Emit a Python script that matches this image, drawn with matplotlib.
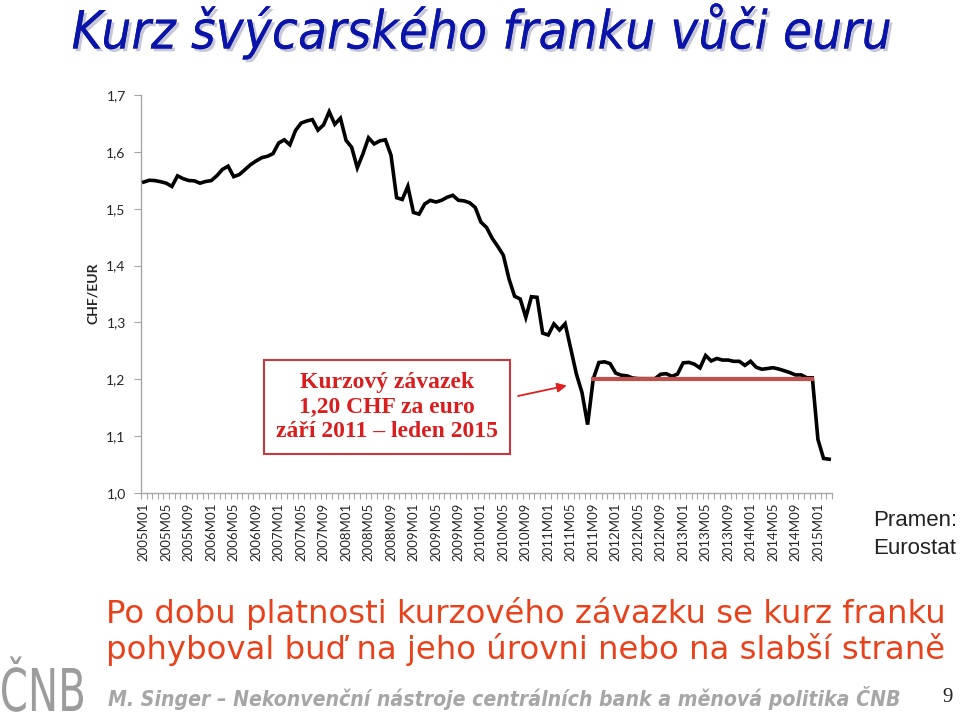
import matplotlib.pyplot as plt
import matplotlib.patheffects as pe
from matplotlib.ticker import FixedLocator
from matplotlib.textpath import TextPath
from matplotlib.patches import PathPatch
from matplotlib.font_manager import FontProperties
from matplotlib.transforms import Affine2D

# Monthly CHF/EUR averages, 2005M01 - 2015M03 (Eurostat)
rate = [
    1.5469, 1.5501, 1.5494, 1.5475, 1.5449, 1.5391, 1.5578, 1.5528, 1.5496, 1.5490, 1.5449, 1.5479,  # 2005
    1.5494, 1.5580, 1.5691, 1.5748, 1.5564, 1.5601, 1.5687, 1.5775, 1.5841, 1.5898, 1.5922, 1.5969,  # 2006
    1.6155, 1.6212, 1.6124, 1.6375, 1.6506, 1.6543, 1.6567, 1.6383, 1.6475, 1.6706, 1.6485, 1.6592,  # 2007
    1.6203, 1.6080, 1.5720, 1.5964, 1.6247, 1.6139, 1.6193, 1.6212, 1.5942, 1.5194, 1.5162, 1.5393,  # 2008
    1.4935, 1.4904, 1.5083, 1.5147, 1.5118, 1.5148, 1.5202, 1.5236, 1.5148, 1.5138, 1.5105, 1.5021,  # 2009
    1.4765, 1.4671, 1.4482, 1.4337, 1.4181, 1.3767, 1.3460, 1.3413, 1.3089, 1.3452, 1.3442, 1.2811,  # 2010
    1.2779, 1.2974, 1.2867, 1.2977, 1.2537, 1.2092, 1.1766, 1.1203, 1.2005, 1.2295, 1.2307, 1.2276,  # 2011
    1.2108, 1.2071, 1.2061, 1.2023, 1.2012, 1.2011, 1.2011, 1.2011, 1.2089, 1.2098, 1.2052, 1.2091,  # 2012
    1.2288, 1.2298, 1.2266, 1.2199, 1.2418, 1.2322, 1.2366, 1.2338, 1.2338, 1.2316, 1.2316, 1.2245,  # 2013
    1.2317, 1.2212, 1.2177, 1.2189, 1.2204, 1.2181, 1.2150, 1.2118, 1.2076, 1.2078, 1.2027, 1.2026,  # 2014
    1.0940, 1.0608, 1.0594,  # 2015
]
months = [f"{y}M{m:02d}" for y in range(2005, 2016) for m in range(1, 13)][:len(rate)]

floor_rate = 1.20
floor_start = "2011M09"
floor_end = "2014M12"

y_ticks = [1.0, 1.1, 1.2, 1.3, 1.4, 1.5, 1.6, 1.7]

W, H = 960, 715
fig = plt.figure(figsize=(W / 100, H / 100), dpi=100)
fig.patch.set_facecolor('white')

def fx(px):
    return px / W

def fy(py):
    return 1 - py / H

ax = fig.add_axes([fx(141), fy(493), fx(832) - fx(141), fy(95) - fy(493)])

x = list(range(len(rate)))
ax.plot(x, rate, color='black', lw=2.6, solid_joinstyle='miter', zorder=3)

i0, i1 = months.index(floor_start), months.index(floor_end)
ax.plot([i0, i1], [floor_rate, floor_rate], color='#C0504D', lw=3, zorder=4)

ax.set_xlim(-0.5, len(rate) - 0.5)
ax.set_ylim(1.0, 1.7)

grey = '#A6A6A6'
for side in ['top', 'right']:
    ax.spines[side].set_visible(False)
for side in ['left', 'bottom']:
    ax.spines[side].set_color(grey)
    ax.spines[side].set_linewidth(1)

ax.set_yticks(y_ticks)
ax.set_yticklabels([f"{v:.1f}".replace('.', ',') for v in y_ticks],
                   fontsize=10, family='Lato', color='#262626')
ax.tick_params(axis='y', length=5, color=grey, pad=6)

lab_idx = list(range(0, len(rate), 4))
ax.set_xticks(lab_idx)
ax.set_xticklabels([months[i] for i in lab_idx], rotation=90,
                   fontsize=9.5, family='Lato', color='#262626')
ax.tick_params(axis='x', length=0, pad=7)
ax.xaxis.set_minor_locator(FixedLocator([i - 0.5 for i in range(len(rate) + 1)]))
ax.tick_params(axis='x', which='minor', length=4, color=grey, width=0.8)

fig.text(fx(93), fy(293), 'CHF/EUR', rotation=90, ha='center', va='center',
         fontsize=10, fontweight='bold', family='Lato', color='#262626')

# annotation box
box_txt = "Kurzový závazek\n1,20 CHF za euro\nzáří 2011 – leden 2015"
fig.text(fx(387), fy(407), box_txt, ha='center', va='center', fontsize=17,
         fontweight='bold', family='Liberation Serif', color='#D81E1E',
         linespacing=1.2,
         bbox=dict(boxstyle='square,pad=0.5', fc='white', ec='#C8383C', lw=1.5))
ax.annotate('', xy=(75.3, 1.189), xycoords='data',
            xytext=(fx(518), fy(396)), textcoords='figure fraction',
            arrowprops=dict(arrowstyle='-|>', color='#E02020', lw=1.3,
                            mutation_scale=14, shrinkA=0, shrinkB=0))

# title
fig.text(fx(482), fy(31), 'Kurz švýcarského franku vůči euru', ha='center', va='center',
         fontsize=38, style='italic', family='DejaVu Sans', fontstretch='condensed',
         color='#0A14A8',
         path_effects=[pe.withSimplePatchShadow(offset=(2, -2), shadow_rgbFace='#9090B0', alpha=0.5),
                       pe.Normal()])

fig.text(fx(873), fy(521), 'Pramen:', ha='left', va='center', fontsize=16,
         family='Liberation Sans', color='#222222')
fig.text(fx(873), fy(549), 'Eurostat', ha='left', va='center', fontsize=16,
         family='Liberation Sans', color='#222222')

red = '#E8421C'
fig.text(fx(106), fy(614), 'Po dobu platnosti kurzového závazku se kurz franku',
         ha='left', va='center', fontsize=23.3, family='DejaVu Sans', color=red)
fig.text(fx(106), fy(649), 'pohyboval buď na jeho úrovni nebo na slabší straně',
         ha='left', va='center', fontsize=23.3, family='DejaVu Sans', color=red)

# footer logo, squeezed into its box
prop = FontProperties(family='DejaVu Sans', stretch='condensed')
logo = TextPath((0, 0), 'ČNB', size=1, prop=prop)
ext = logo.get_extents()
cap_h = TextPath((0, 0), 'N', size=1, prop=prop).get_extents().y1
sx = 81 / ext.width
sy = 43 / cap_h
tr = Affine2D().translate(-ext.x0, 0).scale(sx, sy).translate(2, H - 711)
fig.add_artist(PathPatch(logo, transform=tr, fc='#9C9C9C', ec='none'))

fig.text(fx(108), fy(698), 'M. Singer – Nekonvenční nástroje centrálních bank a měnová politika ČNB',
         ha='left', va='center', fontsize=15.2, fontweight='bold', style='italic',
         family='DejaVu Sans', fontstretch='condensed', color='#A6A6A6')
fig.text(fx(948), fy(698), '9', ha='center', va='center', fontsize=15,
         family='Liberation Serif', color='#222222')

fig.savefig('out.png', dpi=100, facecolor='white')
